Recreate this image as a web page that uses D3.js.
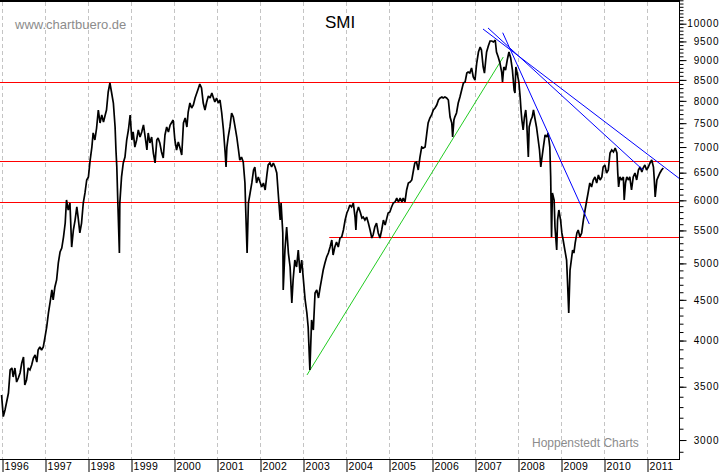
<!DOCTYPE html>
<html><head><meta charset="utf-8">
<script src="https://cdn.jsdelivr.net/npm/d3@7"></script>
<style>
html,body{margin:0;padding:0;background:#fff;}
svg{display:block;font-family:Arial,"Liberation Sans",sans-serif;}
</style></head><body>
<svg id="c" width="723" height="472"></svg>
<script>
// SMI index (decimal year, index points)
const smiDates = [
1995.99,1996.03,1996.07,1996.15,1996.19,1996.23,1996.26,1996.30,1996.34,1996.38,1996.42,1996.46,1996.50,1996.53,1996.57,1996.61,1996.65,1996.69,1996.73,1996.77,1996.81,1996.84,1996.88,1996.92,1996.96,
1997.00,1997.04,1997.08,1997.12,1997.16,1997.19,1997.23,1997.27,1997.31,1997.35,1997.39,1997.43,1997.47,1997.50,1997.54,1997.58,1997.62,1997.66,1997.70,1997.74,1997.77,1997.81,1997.85,1997.89,1997.93,1997.97,
1998.01,1998.05,1998.09,1998.12,1998.16,1998.20,1998.24,1998.28,1998.32,1998.36,1998.40,1998.43,1998.47,1998.51,1998.55,1998.59,1998.63,1998.65,1998.67,1998.69,1998.73,1998.74,1998.78,1998.82,1998.86,1998.90,1998.94,1998.98,
1999.02,1999.05,1999.09,1999.13,1999.17,1999.21,1999.25,1999.29,1999.33,1999.37,1999.40,1999.44,1999.48,1999.52,1999.56,1999.60,1999.63,1999.67,1999.71,1999.75,1999.79,1999.83,1999.87,1999.91,1999.98,
2000.02,2000.06,2000.10,2000.14,2000.18,2000.22,2000.26,2000.30,2000.33,2000.37,2000.41,2000.45,2000.49,2000.53,2000.57,2000.60,2000.64,2000.68,2000.72,2000.76,2000.80,2000.84,2000.88,2000.91,2000.95,2000.99,
2001.03,2001.07,2001.11,2001.15,2001.19,2001.21,2001.23,2001.26,2001.30,2001.34,2001.38,2001.42,2001.46,2001.50,2001.53,2001.57,2001.61,2001.65,2001.67,2001.70,2001.73,2001.77,2001.81,2001.85,2001.88,2001.92,2001.96,
2002.00,2002.04,2002.08,2002.12,2002.16,2002.19,2002.23,2002.27,2002.31,2002.35,2002.39,2002.43,2002.47,2002.49,2002.53,2002.54,2002.58,2002.62,2002.66,2002.70,2002.74,2002.77,2002.81,2002.85,2002.89,2002.93,2002.97,
2003.01,2003.05,2003.09,2003.12,2003.16,2003.20,2003.24,2003.28,2003.32,2003.36,2003.40,2003.43,2003.47,2003.51,2003.55,2003.59,2003.63,2003.67,2003.70,2003.74,2003.78,2003.82,2003.86,2003.90,2003.94,2003.98,
2004.02,2004.05,2004.09,2004.13,2004.17,2004.21,2004.23,2004.25,2004.29,2004.33,2004.37,2004.40,2004.44,2004.48,2004.52,2004.56,2004.60,2004.63,2004.67,2004.71,2004.75,2004.79,2004.83,2004.87,2004.91,2004.95,2004.98,
2005.02,2005.06,2005.10,2005.14,2005.18,2005.22,2005.26,2005.30,2005.33,2005.37,2005.41,2005.45,2005.49,2005.53,2005.57,2005.60,2005.64,2005.68,2005.72,2005.76,2005.80,2005.84,2005.88,2005.91,2005.95,2005.99,
2006.03,2006.07,2006.11,2006.15,2006.19,2006.23,2006.26,2006.30,2006.34,2006.38,2006.42,2006.46,2006.48,2006.51,2006.53,2006.57,2006.61,2006.65,2006.69,2006.73,2006.77,2006.81,2006.84,2006.88,2006.92,2006.96,
2007.00,2007.04,2007.08,2007.12,2007.15,2007.19,2007.22,2007.25,2007.27,2007.31,2007.35,2007.39,2007.43,2007.47,2007.50,2007.54,2007.58,2007.62,2007.64,2007.67,2007.71,2007.75,2007.79,2007.83,2007.87,2007.91,2007.93,2007.95,2007.98,
2008.02,2008.05,2008.07,2008.09,2008.12,2008.15,2008.18,2008.20,2008.24,2008.26,2008.30,2008.33,2008.36,2008.40,2008.43,2008.47,2008.50,2008.53,2008.55,2008.59,2008.63,2008.67,2008.70,2008.74,2008.76,2008.78,2008.80,2008.84,2008.86,2008.90,2008.92,2008.95,2008.99,
2009.02,2009.05,2009.09,2009.13,2009.15,2009.18,2009.21,2009.24,2009.27,2009.30,2009.33,2009.37,2009.40,2009.44,2009.48,2009.52,2009.56,2009.60,2009.63,2009.67,2009.71,2009.75,2009.79,2009.83,2009.87,2009.91,2009.95,2009.98,
2010.02,2010.06,2010.10,2010.14,2010.18,2010.22,2010.26,2010.30,2010.32,2010.34,2010.37,2010.41,2010.45,2010.47,2010.50,2010.53,2010.57,2010.60,2010.64,2010.68,2010.72,2010.76,2010.80,2010.84,2010.88,2010.91,2010.95,2010.99,
2011.03,2011.07,2011.11,2011.15,2011.17,2011.19,2011.23,2011.26,2011.30,2011.34,2011.38
];
const smiValues = [
3417,3210,3272,3437,3674,3695,3600,3695,3548,3590,3642,3748,3814,3518,3569,3695,3674,3727,3803,3836,3759,3892,3926,3892,3926,
4041,4160,4333,4472,4630,4498,4670,4766,5006,5167,5227,5396,5619,6006,5835,5954,5242,5507,5668,5886,5717,5460,5619,5954,6129,6364,
6420,6742,7000,7291,7144,7396,7791,7504,7679,7525,7679,7791,8208,8424,8184,7950,7418,6940,6607,6058,5152,5954,6420,6685,6800,7144,7354,7679,
7144,7312,7000,7144,7354,7206,7312,7461,7206,6940,7291,7083,7206,6880,6685,7144,7185,7083,6900,6781,7248,7418,7312,7461,7569,
7144,6940,7103,6980,6840,7504,7613,7418,7746,7950,7836,7904,8066,8184,8303,8400,8303,7950,7791,7973,8113,8066,8184,8090,7973,8066,
7950,8020,7724,7354,6880,6607,7000,7206,7418,7724,7634,7418,7206,6940,6742,6800,6704,6309,5785,5152,5954,6129,6309,6550,6607,6309,6420,
6327,6236,6309,6182,6457,6646,6685,6607,6685,6607,6494,6058,5668,5954,5460,4630,5197,5555,5152,4948,4459,4766,5049,4948,5197,4863,5049,
4766,4498,4332,4160,3674,4245,4124,4590,4630,4524,4670,4766,4905,5006,5093,5152,5242,5350,5123,5242,5319,5242,5381,5396,5507,5668,
5785,5835,5920,5886,5954,5717,5507,5785,5886,5802,5700,5717,5668,5717,5619,5507,5381,5428,5555,5619,5460,5381,5507,5668,5587,5700,5785,
5802,5886,5954,5971,6041,5971,6041,5971,6041,5971,6182,6309,6327,6364,6550,6685,6704,6550,6800,7000,6980,7000,7291,7504,7613,7679,
7791,7836,7904,8020,8066,8090,8066,8090,8066,8020,7634,7504,7206,7569,7634,7724,7950,8090,8255,8424,8448,8670,8695,8670,8798,8571,
8497,8925,9214,9349,9268,8823,8670,9003,9214,9376,9512,9512,9485,9539,9214,9082,8925,8695,8448,8823,8747,9003,9214,9056,8747,8255,8184,8823,8670,
8448,8090,7791,7569,7354,7634,7791,7569,6800,7418,7569,7634,7791,7569,7418,7144,6940,6607,6742,7000,7248,7206,7291,7000,6420,5396,6129,6006,5555,5197,5668,5835,5668,
5460,5350,5197,5049,4766,4332,4905,5049,5197,5152,5304,5460,5507,5396,5460,5668,5835,6006,6129,6309,6236,6364,6420,6309,6457,6364,6420,6607,
6646,6494,6550,6880,6940,6900,6980,6880,6494,6236,6420,6364,6420,6006,6309,6420,6364,6420,6182,6420,6494,6364,6550,6607,6513,6588,6646,6550,
6607,6685,6742,6607,6364,6058,6364,6420,6494,6550,6588
];
const yearLabels = [1996,1997,1998,1999,2000,2001,2002,2003,2004,2005,2006,2007,2008,2009,2010,2011];
const yLabelValues = [3000,3500,4000,4500,5000,5500,6000,6500,7000,7500,8000,8500,9000,9500,10000];
const yMinorValues = d3.range(2900, 10701, 100);
const levelValues = [8440, 6720, 5970];
const supportLevel = {from: 2003.61, value: 5390};
const blueTrendStarts = [[2007.644, 9743], [2007.186, 9848], [2007.302, 9877]];
const blueTrendEnds   = [[2009.658, 5603], [2011.767, 6382], [2010.907, 6550]];
const greenTrend = [[2003.093, 3621], [2007.658, 9081]];

const W = 723, H = 472;
const plotR = 679, plotB = 459;
const svg = d3.select("#c");
const x = d3.scaleLinear().domain([1996, 2011]).range([2, 647]);
const y = d3.scaleLog().domain([2840, 10709]).range([plotB, 0]);
const xMin = x.invert(0), xMax = x.invert(plotR);

svg.append("rect").attr("width", W).attr("height", H).attr("fill", "#fff");

// vertical dashed year grid
svg.append("g").selectAll("line").data(yearLabels).join("line")
  .attr("x1", d => Math.round(x(d)) + 0.5).attr("x2", d => Math.round(x(d)) + 0.5)
  .attr("y1", 2).attr("y2", plotB)
  .attr("stroke", "#c4c4c4").attr("stroke-width", 1).attr("stroke-dasharray", "4,3");

// watermark texts
svg.append("text").attr("x", 15).attr("y", 29).attr("font-size", 13).attr("fill", "#8c8c8c").text("www.chartbuero.de");
svg.append("text").attr("x", 532).attr("y", 447).attr("font-size", 12).attr("fill", "#8c8c8c").text("Hoppenstedt Charts");
svg.append("text").attr("x", 340).attr("y", 28).attr("text-anchor", "middle").attr("font-size", 17).attr("fill", "#000").text("SMI");

const defs = svg.append("defs");
defs.append("clipPath").attr("id", "clip").append("rect").attr("x", 0).attr("y", 0).attr("width", plotR).attr("height", plotB);
const plot = svg.append("g").attr("clip-path", "url(#clip)");

// horizontal red levels
plot.selectAll("line.lvl").data(levelValues).join("line").attr("class", "lvl")
  .attr("x1", 0).attr("x2", plotR)
  .attr("y1", d => Math.round(y(d)) + 0.5).attr("y2", d => Math.round(y(d)) + 0.5)
  .attr("stroke", "#ff0000").attr("stroke-width", 1.2);
plot.append("line")
  .attr("x1", x(supportLevel.from)).attr("x2", plotR)
  .attr("y1", Math.round(y(supportLevel.value)) + 0.5).attr("y2", Math.round(y(supportLevel.value)) + 0.5)
  .attr("stroke", "#ff0000").attr("stroke-width", 1.2);

// green trend line
const seg = d3.line().x(d => x(d[0])).y(d => y(d[1]));
plot.append("path").attr("d", seg(greenTrend)).attr("fill", "none").attr("stroke", "#22cc22").attr("stroke-width", 1);

// price line
const priceData = smiDates.map((t, i) => [t, smiValues[i]]);
plot.append("path").attr("d", seg(priceData)).attr("fill", "none")
  .attr("stroke", "#000").attr("stroke-width", 1.7).attr("stroke-linejoin", "miter").attr("stroke-miterlimit", 2);

// blue trend lines
plot.selectAll("path.blue").data(blueTrendStarts.map((s, i) => [s, blueTrendEnds[i]])).join("path").attr("class", "blue")
  .attr("d", seg).attr("fill", "none").attr("stroke", "#0000ff").attr("stroke-width", 1);

// frame: top border
svg.append("line").attr("x1", 0).attr("x2", plotR + 0.5).attr("y1", 1).attr("y2", 1).attr("stroke", "#000").attr("stroke-width", 2);

// right axis
const yMinorAxis = d3.axisRight(y).tickValues(yMinorValues).tickSize(4).tickSizeOuter(0).tickFormat("");
const gMinor = svg.append("g").attr("transform", `translate(${plotR + 0.5},0)`).call(yMinorAxis);
gMinor.select(".domain").remove();
const yMajorAxis = d3.axisRight(y).tickValues(yLabelValues).tickSize(7).tickSizeOuter(0).tickFormat(d3.format("d"));
const gMajor = svg.append("g").attr("transform", `translate(${plotR + 0.5},0)`).call(yMajorAxis);
gMajor.select(".domain").remove();
gMajor.selectAll("text").attr("x", 40).attr("text-anchor", "end")
  .attr("font-size", 10).attr("letter-spacing", "0.9px").attr("fill", "#000")
  .attr("font-family", "Arial, 'Liberation Sans', sans-serif");
svg.append("line").attr("x1", plotR + 0.5).attr("x2", plotR + 0.5).attr("y1", 0).attr("y2", plotB + 1).attr("stroke", "#000");

// bottom axis
const xAxis = d3.axisBottom(x).tickValues(yearLabels).tickSize(13).tickSizeOuter(0).tickFormat(d3.format("d"));
const gX = svg.append("g").attr("transform", `translate(0,${plotB + 0.5})`).call(xAxis);
gX.select(".domain").remove();
gX.selectAll(".tick line").attr("transform", "translate(0.5,0)");
gX.selectAll("text").attr("x", 2).attr("y", 3).attr("dy", "0.71em").attr("text-anchor", "start")
  .attr("font-size", 10.5).attr("letter-spacing", "0.3px").attr("fill", "#000")
  .attr("font-family", "Arial, 'Liberation Sans', sans-serif");
svg.append("line").attr("x1", 0).attr("x2", plotR + 0.5).attr("y1", plotB + 0.5).attr("y2", plotB + 0.5).attr("stroke", "#000");
</script>
</body></html>
